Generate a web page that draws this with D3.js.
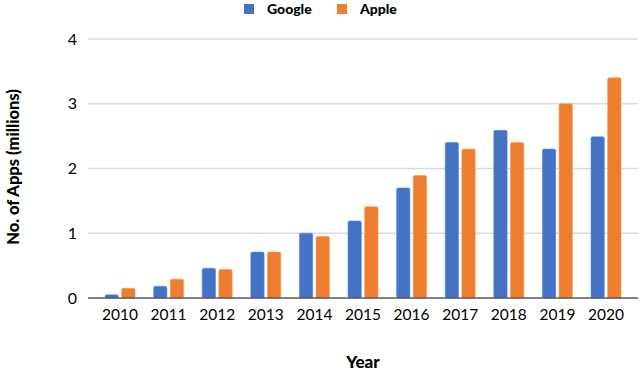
<!DOCTYPE html>
<html>
<head>
<meta charset="utf-8">
<script src="https://cdn.jsdelivr.net/npm/d3@7"></script>
<style>
  body { margin: 0; background: #fff; }
  text { font-family: Lato, "Open Sans", sans-serif; fill: #000; }
</style>
</head>
<body>
<div id="chart"></div>
<script>
// data
const years = ["2010","2011","2012","2013","2014","2015","2016","2017","2018","2019","2020"];
const series = ["Google", "Apple"];
const google = [0.05, 0.18, 0.46, 0.71, 1.0, 1.19, 1.70, 2.40, 2.59, 2.30, 2.49];
const apple  = [0.15, 0.29, 0.44, 0.71, 0.95, 1.41, 1.89, 2.30, 2.40, 3.00, 3.40];
const yTicks = [0, 1, 2, 3, 4];
const colors = ["#4472C4", "#ED7D31"];

const W = 640, H = 373;
const plot = {left: 88, right: 638, top: 39, bottom: 298};

const svg = d3.select("#chart").append("svg")
    .attr("width", W).attr("height", H);

const x = d3.scaleBand()
    .domain(years)
    .range([95.7, 630.3]);

const xs = d3.scaleBand()
    .domain(series)
    .range([-15, 15])
    .paddingInner(0.2);

const y = d3.scaleLinear()
    .domain([0, 4])
    .range([plot.bottom, plot.top]);

const color = d3.scaleOrdinal().domain(series).range(colors);

// gridlines
svg.append("g")
    .selectAll("line")
    .data(yTicks.filter(d => d > 0))
    .enter().append("line")
    .attr("x1", plot.left).attr("x2", plot.right)
    .attr("y1", d => y(d)).attr("y2", d => y(d))
    .attr("stroke", "#d9d9d9").attr("stroke-width", 1.5);

// y tick labels
const yAxis = d3.axisLeft(y).tickValues(yTicks).tickFormat(d3.format("d")).tickSize(0).tickPadding(11);
const ya = svg.append("g")
    .attr("transform", `translate(${plot.left},0)`)
    .call(yAxis);
ya.select(".domain").remove();
ya.selectAll("text")
    .style("font-size", "16px")
    .style("font-family", "Lato, sans-serif")
    .attr("fill", "#000");

// bars
const rows = years.map((yr, i) => ({year: yr, Google: google[i], Apple: apple[i]}));
const groups = svg.append("g").selectAll("g")
    .data(rows)
    .enter().append("g")
    .attr("transform", d => `translate(${x(d.year) + x.bandwidth() / 2},0)`);

groups.selectAll("rect")
    .data(d => series.map(s => ({key: s, value: d[s]})))
    .enter().append("rect")
    .attr("x", d => xs(d.key))
    .attr("width", xs.bandwidth())
    .attr("y", d => y(d.value))
    .attr("height", d => plot.bottom - y(d.value))
    .attr("rx", 1.5)
    .attr("fill", d => color(d.key))
    .attr("stroke", d => d3.color(color(d.key)).brighter(0.6))
    .attr("stroke-width", 0.6);

// x axis
const xAxis = d3.axisBottom(x).tickSize(0).tickPadding(11);
const xa = svg.append("g")
    .attr("transform", `translate(0,${plot.bottom})`)
    .call(xAxis);
xa.select(".domain").remove();
xa.selectAll("text")
    .style("font-size", "15.5px")
    .style("font-family", "Lato, sans-serif")
    .attr("fill", "#000");

svg.append("line")
    .attr("x1", plot.left).attr("x2", plot.right)
    .attr("y1", plot.bottom).attr("y2", plot.bottom)
    .attr("stroke", "#595959").attr("stroke-width", 1.5);

// axis titles
svg.append("text")
    .attr("transform", `translate(19,167) rotate(-90)`)
    .attr("text-anchor", "middle")
    .style("font-weight", "900")
    .style("font-size", "16.5px")
    .text("No. of Apps (millions)");

svg.append("text")
    .attr("x", 363).attr("y", 368)
    .attr("text-anchor", "middle")
    .style("font-weight", "900")
    .style("font-size", "17px")
    .text("Year");

// legend
const legendX = [244, 337];
const legend = svg.append("g").selectAll("g")
    .data(series)
    .enter().append("g")
    .attr("transform", (d, i) => `translate(${legendX[i]},4)`);
legend.append("rect")
    .attr("width", 10).attr("height", 10)
    .attr("fill", d => color(d));
legend.append("text")
    .attr("x", 23).attr("y", 10)
    .style("font-weight", "900")
    .style("font-size", "14px")
    .text(d => d);
</script>
</body>
</html>
